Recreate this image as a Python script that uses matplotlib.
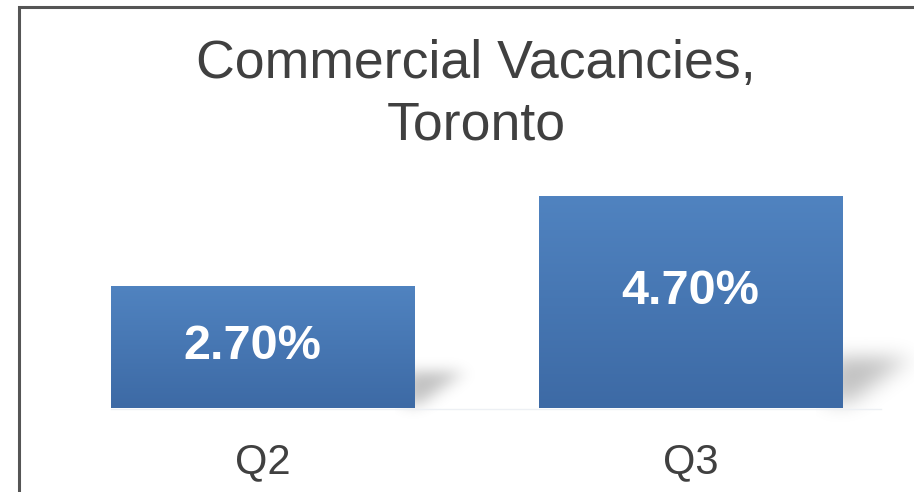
import numpy as np
import matplotlib
matplotlib.use("Agg")
import matplotlib.pyplot as plt
from matplotlib.patches import Rectangle
from matplotlib.colors import LinearSegmentedColormap
from matplotlib.transforms import offset_copy

# ---- data ----
categories = ["Q2", "Q3"]
vacancy_rates = [2.70, 4.70]
value_labels = ["2.70%", "4.70%"]
title_lines = ["Commercial Vacancies,", "Toronto"]

# ---- style ----
W, H = 914, 492
DPI = 100
TEXT_COLOR = "#404040"
BAR_TOP = "#5083C0"
BAR_BOTTOM = "#3D6AA5"
FONT = ["Liberation Sans", "DejaVu Sans"]
label_frac = [0.505, 0.55]      # vertical label position as fraction of bar height
label_dx = [-0.024, 0.0]        # horizontal nudge of value labels
shadow_w = [0.11, 0.15]         # shadow width (x units)
shadow_h_frac = [0.30, 0.236]   # shadow height as fraction of bar height

fig = plt.figure(figsize=(W / DPI, H / DPI), dpi=DPI)
fig.patch.set_facecolor("white")

def px_ax(l, b, w, h):
    return fig.add_axes([l / W, b / H, w / W, h / H])

ax = px_ax(48.5, 84, 856, 212)
ax.set_xlim(-0.5, 1.5)
ax.set_ylim(0, max(vacancy_rates))
ax.axis("off")

x = np.arange(len(categories))
bars = ax.bar(x, vacancy_rates, width=0.708, color="none", edgecolor="none",
              zorder=3, clip_on=False)

grad_cmap = LinearSegmentedColormap.from_list("g", [BAR_BOTTOM, BAR_TOP])
grad = np.linspace(0, 1, 256).reshape(-1, 1)


def gauss_blur(a, sigma):
    r = int(3 * sigma)
    k = np.exp(-0.5 * (np.arange(-r, r + 1) / sigma) ** 2)
    k /= k.sum()
    a = np.apply_along_axis(lambda m: np.convolve(m, k, mode="same"), 0, a)
    a = np.apply_along_axis(lambda m: np.convolve(m, k, mode="same"), 1, a)
    return a

LO, HI, N = -0.4, 1.4, 180
for i, b in enumerate(bars):
    x0, bw, h = b.get_x(), b.get_width(), b.get_height()
    ax.imshow(grad, extent=[x0, x0 + bw, 0, h], origin="lower",
              cmap=grad_cmap, aspect="auto", zorder=3, clip_on=False,
              interpolation="nearest")
    # soft diagonal shadow
    sw = shadow_w[i]
    sh = h * shadow_h_frac[i]
    g = np.linspace(LO, HI, N)
    uu, vv = np.meshgrid(g, g)
    mask = ((uu >= -0.2) & (vv >= 0.08) & (vv <= 1.0) & (vv >= uu * 0.95)).astype(float)
    alpha = gauss_blur(mask, sigma=N / (HI - LO) * 0.19)
    rgba = np.zeros((N, N, 4))
    rgba[..., 3] = 0.25 * alpha
    xe = x0 + bw
    ax.imshow(rgba, extent=[xe + LO * sw, xe + HI * sw, LO * sh, HI * sh],
              origin="lower", aspect="auto", zorder=2, clip_on=False,
              interpolation="bilinear")
    ax.text(x0 + bw / 2 + label_dx[i], h * label_frac[i], value_labels[i],
            ha="center", va="center", color="white", fontsize=35,
            fontweight="bold", family=FONT, zorder=5)

# faint baseline
ax.plot([bars[0].get_x(), bars[-1].get_x() + bars[-1].get_width() + shadow_w[-1] * 0.6],
        [-0.015, -0.015], color="#EDF0F4", lw=1.0, zorder=4, clip_on=False)

# category labels
lab_tr = offset_copy(ax.get_xaxis_transform(), fig=fig, x=0, y=-65, units="dots")
for xi, c in zip(x, categories):
    ax.text(xi, 0, c, transform=lab_tr, ha="center",
            va="baseline", color=TEXT_COLOR, fontsize=30, family=FONT)

# title
fig.text(476 / W, 1 - 78 / H, title_lines[0], ha="center", va="baseline",
         color=TEXT_COLOR, fontsize=38.6, family=FONT)
fig.text(476 / W, 1 - 139 / H, title_lines[1], ha="center", va="baseline",
         color=TEXT_COLOR, fontsize=38.6, family=FONT)

# outer frame
fig.patches.append(Rectangle((19 / W, -0.05), 1.2, 1 - 7 / H + 0.05,
                             transform=fig.transFigure, fill=False,
                             edgecolor="#555555", lw=2.2))

fig.savefig("out.png", dpi=DPI)
